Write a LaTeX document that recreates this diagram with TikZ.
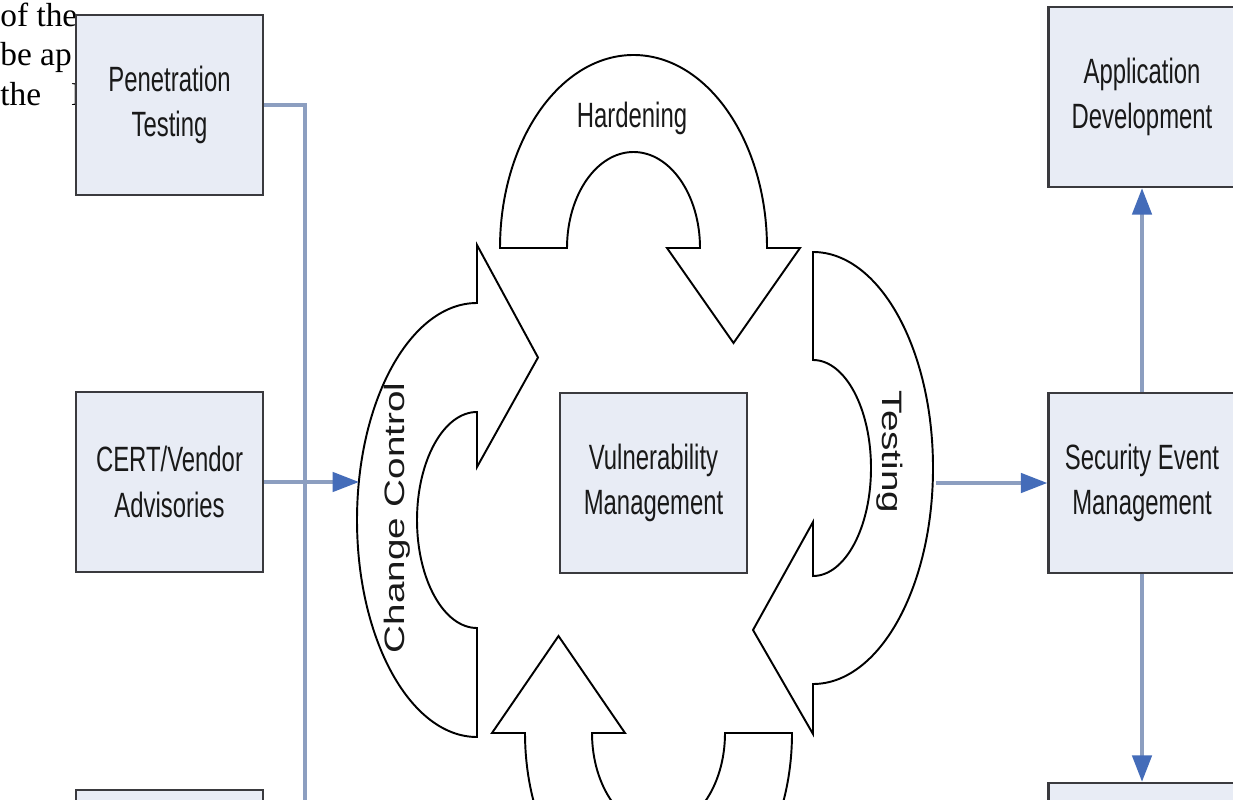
\documentclass[tikz,border=0pt]{standalone}
\usepackage{fontspec}
\setmainfont{Liberation Serif}
\newfontfamily\arialf{Liberation Sans}
\usepackage{graphicx}
\usetikzlibrary{arrows.meta}
\definecolor{boxfill}{RGB}{232,236,245}
\definecolor{boxdraw}{RGB}{58,58,62}
\definecolor{conn}{RGB}{140,158,192}
\definecolor{tipblue}{RGB}{68,108,185}
\definecolor{txt}{RGB}{25,25,25}
\newcommand{\hsq}[1]{\scalebox{0.68}[1]{#1}}
\newcommand{\vsq}[1]{\scalebox{1.1}[0.8]{#1}}
\tikzset{
  sbox/.style={draw=boxdraw, line width=1.4pt, fill=boxfill, minimum width=3.74cm,
    minimum height=3.6cm, inner sep=0pt, align=center, text=txt,
    font=\arialf\fontsize{20}{26}\selectfont},
  lbl/.style={inner sep=0pt, text=txt, font=\arialf\fontsize{20}{26}\selectfont},
  ptext/.style={anchor=base west, inner sep=0pt, text=black, font=\fontsize{19}{23}\selectfont},
  shapeline/.style={draw=black, line width=1.1pt, fill=white, line join=miter},
  conline/.style={draw=conn, line width=2pt},
  conarrow/.style={conline, -{Triangle[length=15pt, width=11pt, color=tipblue]}}
}
\begin{document}
\begin{tikzpicture}[x=0.02cm, y=-0.02cm]
\useasboundingbox (0,0) rectangle (1233,800);
\fill[white] (0,0) rectangle (1233,800);

% page text behind the figure
\node[ptext] (t1) at (0,27) {of the};
\node[ptext] (t2) at (0,66) {be ap};
\node[ptext] (t3) at (0,106) {the\hspace{17pt}I};

% circular arrows
% Hardening (top)
\draw[shapeline] (500,248) arc[start angle=180, end angle=360, x radius=133.5, y radius=193]
  -- (800,248) -- (733.5,343) -- (667,248) -- (700,248)
  arc[start angle=0, end angle=-180, x radius=66.5, y radius=96] -- cycle;
% Testing (right)
\draw[shapeline] (813,252) arc[start angle=-90, end angle=90, x radius=120, y radius=216]
  -- (813,734) -- (753,630) -- (813,522) -- (813,576)
  arc[start angle=90, end angle=-90, x radius=58, y radius=108] -- cycle;
% bottom
\draw[shapeline] (792,733) arc[start angle=0, end angle=180, x radius=133.5, y radius=193]
  -- (492,733) -- (558.5,636) -- (625,733) -- (592,733)
  arc[start angle=180, end angle=0, x radius=66.5, y radius=96] -- cycle;
% Change Control (left)
\draw[shapeline] (477,737) arc[start angle=90, end angle=270, x radius=120, y radius=217]
  -- (477,245) -- (538,357.5) -- (477,467) -- (477,412)
  arc[start angle=270, end angle=90, x radius=60, y radius=108] -- cycle;

\node[lbl, anchor=base] (hard) at (632,128) {\hsq{Hardening}};
\node[lbl, rotate=90] (chg) at (397,518) {\vsq{Change Control}};
\node[lbl, rotate=-90] (tst) at (890,452) {\vsq{Testing}};

% boxes
\node[sbox] (pen) at (169.5,105) {\hsq{Penetration}\\\hsq{Testing}};
\node[sbox] (cert) at (169.5,482) {\hsq{CERT/Vendor}\\\hsq{Advisories}};
\node[sbox] (bl) at (169.5,880) {};
\node[sbox] (vm) at (653.5,483) {\hsq{Vulnerability}\\\hsq{Management}};
\node[sbox] (app) at (1142,97) {\hsq{Application}\\\hsq{Development}};
\node[sbox] (sem) at (1142,483) {\hsq{Security Event}\\\hsq{Management}};
\node[sbox] (br) at (1142,873) {};

% connectors
\coordinate (penend) at (305,810);
\coordinate (ccin) at (359,482);
\coordinate (tsout) at (936,483);
\draw[conline] (pen.east) -| (penend);
\draw[conarrow] (cert.east) -- (ccin);
\draw[conarrow] (tsout) -- (sem.west);
\draw[conarrow] (sem.north) -- (app.south);
\draw[conarrow] (sem.south) -- (br.north);
\end{tikzpicture}
\end{document}
